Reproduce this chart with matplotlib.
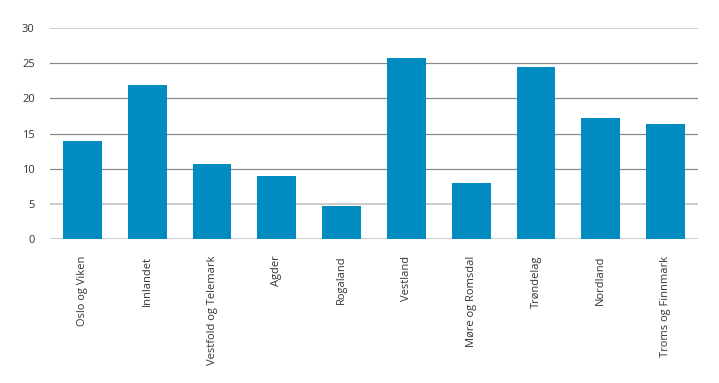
import matplotlib.pyplot as plt

# regions and values
regions = ['Oslo og Viken', 'Innlandet', 'Vestfold og Telemark', 'Agder', 'Rogaland',
           'Vestland', 'Møre og Romsdal', 'Trøndelag', 'Nordland', 'Troms og Finnmark']
values = [14.0, 21.9, 10.6, 9.0, 4.7, 25.8, 7.9, 24.5, 17.2, 16.4]
yticks = [0, 5, 10, 15, 20, 25, 30]

plt.rcParams['font.family'] = ['Open Sans', 'DejaVu Sans']

fig = plt.figure(figsize=(7.19, 3.83), dpi=100)
ax = fig.add_axes([50 / 719, 144 / 383, 648 / 719, 211 / 383])

# grid lines first, bars over them
for y in yticks:
    light = y in (0, 5, 30)
    ax.axhline(y, color='#c4c4c4' if light else '#8a8a8a', lw=1.2 if light else 0.9, zorder=0)

x = range(len(regions))
ax.bar(x, values, width=0.6, color='#008bc1', zorder=2)

ax.set_xlim(-0.5, len(regions) - 0.5)
ax.set_ylim(0, 30)
ax.set_yticks(yticks)
ax.set_xticks(list(x))
ax.set_xticklabels(regions, rotation=90, fontsize=8, color='#333333')
ax.tick_params(axis='y', labelsize=8, labelcolor='#333333', length=0, pad=11)
ax.tick_params(axis='x', length=0, pad=12)

for s in ax.spines.values():
    s.set_visible(False)

plt.savefig('out.png', dpi=100)
plt.close()
